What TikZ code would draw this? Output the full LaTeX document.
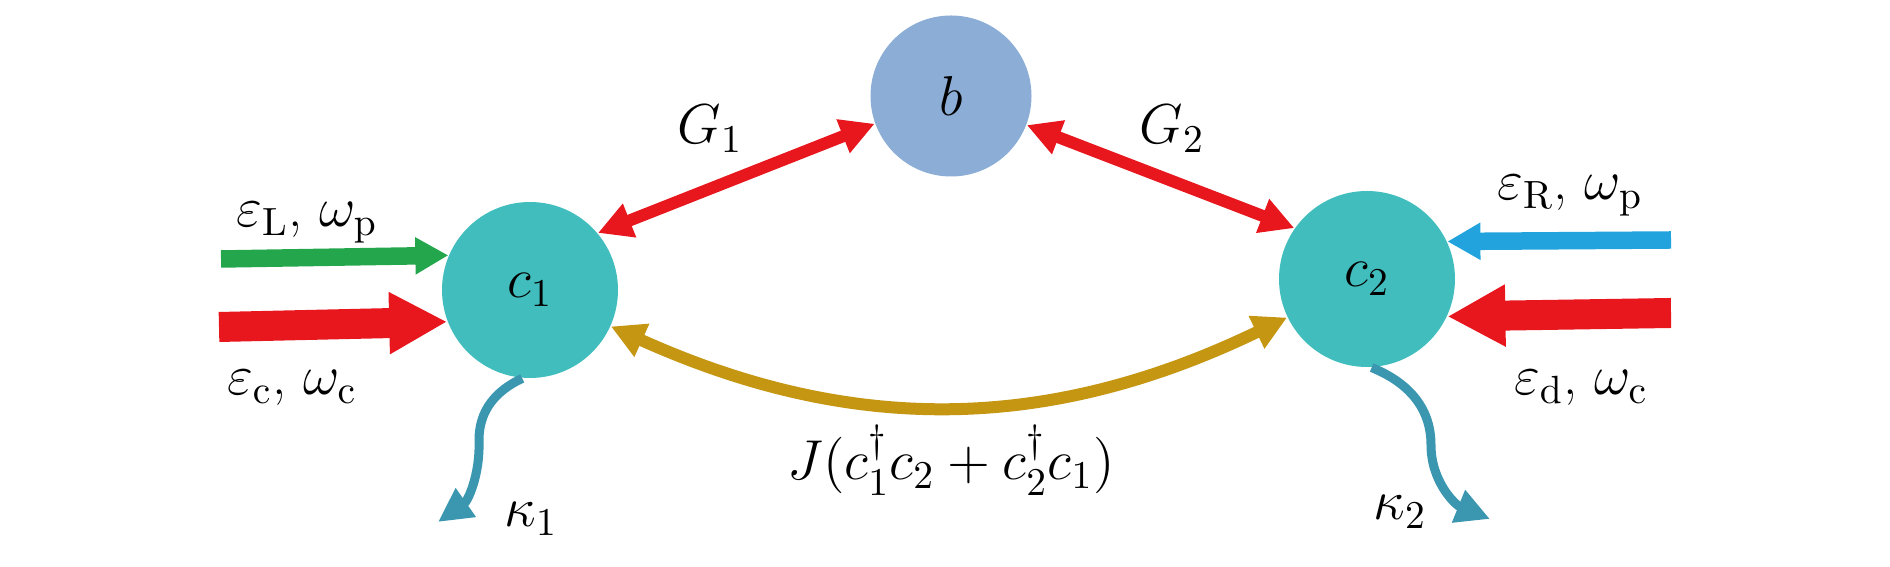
\documentclass[tikz,border=0pt]{standalone}
\usepackage{fix-cm}
\usepackage{amsmath}
\usetikzlibrary{arrows.meta}

\definecolor{cavity}{RGB}{65,189,189}
\definecolor{phonon}{RGB}{139,173,214}
\definecolor{gred}{RGB}{232,22,29}
\definecolor{pgreen}{RGB}{36,166,76}
\definecolor{pblue}{RGB}{34,163,222}
\definecolor{hop}{RGB}{196,150,18}
\definecolor{loss}{RGB}{59,150,176}

\tikzset{
	every node/.style={font=\fontsize{16}{19}\selectfont},
	mode/.style={circle, inner sep=0pt, minimum size=1.76cm, fill=cavity},
	couple/.style={line width=1.2mm, >={Triangle[length=3.4mm,width=3.4mm]}, <->},
	probe/.style={line width=1.75mm, -{Triangle[length=3.3mm,width=3.5mm]}},
	pump/.style={line width=3mm, -{Triangle[length=5.8mm,width=5.8mm]}, draw=gred},
	leak/.style={line width=0.9mm, -{Triangle[length=3.4mm,width=3.3mm]}, draw=loss},
}

\begin{document}
\begin{tikzpicture}
	\useasboundingbox (0,0) rectangle (18.9,-5.67);

	% the three modes
	\node[mode] (c1) at (5.30,-2.90) {$c_1$};
	\node[mode] (c2) at (13.67,-2.79) {$c_2$};
	\node[mode, fill=phonon, minimum size=1.61cm] (b) at (9.51,-0.96) {$b$};

	% couplings
	\draw[couple, draw=gred] (c1.40) -- (b.200);
	\draw[couple, draw=gred] (b.-21) -- (c2.145);
	\draw[couple, draw=hop] (c1) to[bend right=25] (c2);
	\node[anchor=base] (g1) at (7.10,-1.44) {$G_1$};
	\node[anchor=base] (g2) at (11.72,-1.44) {$G_2$};
	\node[anchor=base] (jlab) at (9.51,-4.80) {$J(c_1^\dagger c_2+c_2^\dagger c_1)$};

	% driving fields
	\coordinate (inL) at (2.21,-2.59);
	\coordinate (inc) at (2.19,-3.27);
	\coordinate (inR) at (16.71,-2.40);
	\coordinate (ind) at (16.71,-3.13);
	\draw[probe, draw=pgreen] (inL) -- (c1.157);
	\draw[pump] (inc) -- (c1.201);
	\draw[probe, draw=pblue] (inR) -- (c2.25);
	\draw[pump] (ind) -- (c2.-25);
	\node[anchor=base] (lL) at (3.07,-2.27) {$\varepsilon_{\mathrm{L}}$, $\omega_{\mathrm{p}}$};
	\node[anchor=base] (lc) at (2.92,-3.95) {$\varepsilon_{\mathrm{c}}$, $\omega_{\mathrm{c}}$};
	\node[anchor=base] (lR) at (15.70,-2.00) {$\varepsilon_{\mathrm{R}}$, $\omega_{\mathrm{p}}$};
	\node[anchor=base] (ld) at (15.81,-3.95) {$\varepsilon_{\mathrm{d}}$, $\omega_{\mathrm{c}}$};

	% decay
	\coordinate (k1end) at (4.38,-5.22);
	\coordinate (k2end) at (14.90,-5.19);
	\draw[leak] (c1.-95) to[out=205,in=90] (4.79,-4.40) to[out=-88,in=35] (k1end);
	\draw[leak] (c2.-87) to[out=-22,in=90] (14.31,-4.45) to[out=-90,in=158] (k2end);
	\node[anchor=base] (k1) at (5.31,-5.27) {$\kappa_1$};
	\node[anchor=base] (k2) at (14.00,-5.20) {$\kappa_2$};
\end{tikzpicture}
\end{document}
